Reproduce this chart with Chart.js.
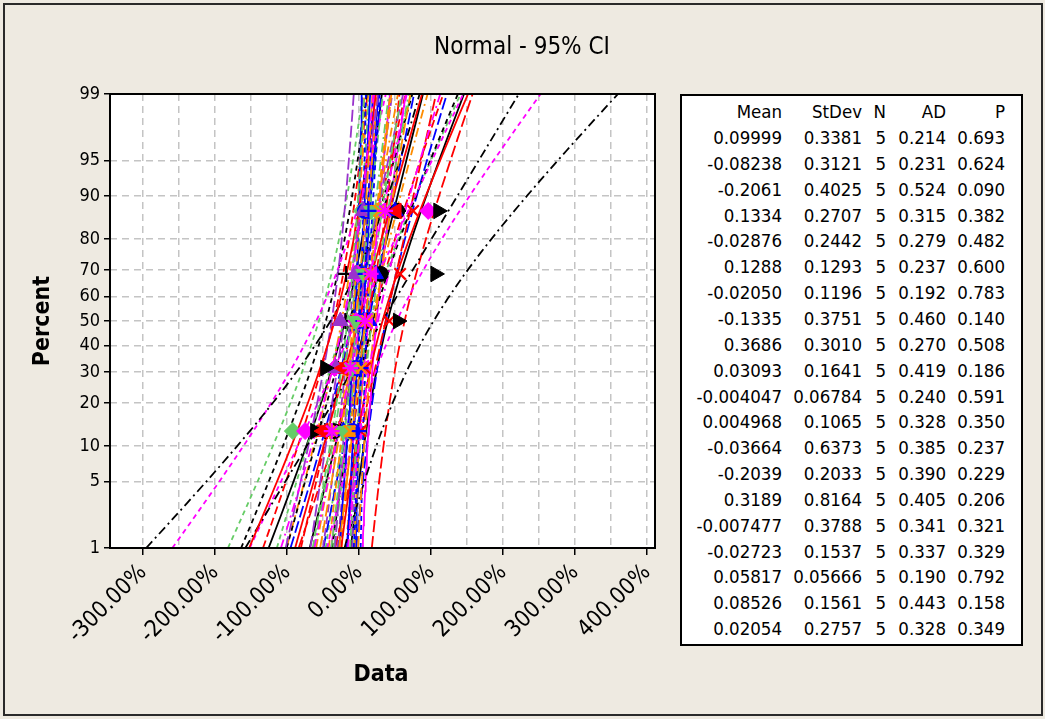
<!DOCTYPE html>
<html>
<head>
<meta charset="utf-8">
<title>Normal - 95% CI</title>
<script src="https://cdn.jsdelivr.net/npm/chart.js@4.4.1/dist/chart.umd.min.js"></script>
<style>
  html, body { margin: 0; padding: 0; background: #eeeae1; }
  #wrap { position: relative; width: 1045px; height: 719px; overflow: hidden; }
  #wrap canvas { position: absolute; left: 0; top: 0; }
  #stats {
    position: absolute; left: 680px; top: 94px; width: 339px; height: 548px;
    background: #fff; border: 2px solid #000;
    font: 18.5px "DejaVu Sans Condensed", "DejaVu Sans", sans-serif; color: #000;
  }
  #stats div { position: absolute; white-space: nowrap; text-align: right; line-height: 20px; }
</style>
</head>
<body>
<div id="wrap">
  <canvas id="probChart" width="1045" height="719"></canvas>
  <div id="stats"></div>
</div>
<script>
// summary table, one entry per group
const groupMean = ['0.09999', '-0.08238', '-0.2061', '0.1334', '-0.02876', '0.1288', '-0.02050', '-0.1335', '0.3686', '0.03093',
                   '-0.004047', '0.004968', '-0.03664', '-0.2039', '0.3189', '-0.007477', '-0.02723', '0.05817', '0.08526', '0.02054'];
const groupStDev = ['0.3381', '0.3121', '0.4025', '0.2707', '0.2442', '0.1293', '0.1196', '0.3751', '0.3010', '0.1641',
                    '0.06784', '0.1065', '0.6373', '0.2033', '0.8164', '0.3788', '0.1537', '0.05666', '0.1561', '0.2757'];
const groupN = [5, 5, 5, 5, 5, 5, 5, 5, 5, 5, 5, 5, 5, 5, 5, 5, 5, 5, 5, 5];
const groupAD = ['0.214', '0.231', '0.524', '0.315', '0.279', '0.237', '0.192', '0.460', '0.270', '0.419',
                 '0.240', '0.328', '0.385', '0.390', '0.405', '0.341', '0.337', '0.190', '0.443', '0.328'];
const groupP = ['0.693', '0.624', '0.090', '0.382', '0.482', '0.600', '0.783', '0.140', '0.508', '0.186',
                '0.591', '0.350', '0.237', '0.229', '0.206', '0.321', '0.329', '0.792', '0.158', '0.349'];

// observations per group, sorted (1.0 = 100%)
const samples = [
  [-0.35, -0.08, 0.10, 0.30, 0.53],
  [-0.52, -0.22, -0.05, 0.08, 0.30],
  [-0.92, -0.10, -0.04, -0.01, 0.04],
  [-0.22, 0.02, 0.14, 0.23, 0.50],
  [-0.35, -0.15, -0.02, 0.08, 0.30],
  [-0.03, 0.07, 0.12, 0.18, 0.30],
  [-0.18, -0.08, -0.02, 0.05, 0.13],
  [-0.47, -0.33, -0.19, -0.18, 0.54],
  [0.02, 0.08, 0.42, 0.57, 0.75],
  [-0.15, -0.06, 0.00, 0.06, 0.30],
  [-0.09, -0.04, 0.00, 0.03, 0.08],
  [-0.13, -0.05, -0.02, 0.07, 0.155],
  [-0.75, -0.34, -0.04, -0.02, 0.96],
  [-0.45, -0.32, -0.26, -0.05, 0.06],
  [-0.61, -0.47, 0.54, 1.06, 1.10],
  [-0.50, -0.22, 0.04, 0.12, 0.52],
  [-0.22, -0.10, -0.05, 0.06, 0.17],
  [-0.01, 0.02, 0.06, 0.09, 0.13],
  [-0.13, 0.03, 0.11, 0.14, 0.28],
  [-0.38, -0.12, 0.08, 0.16, 0.36]
];

const yTickPct = [1, 5, 10, 20, 30, 40, 50, 60, 70, 80, 90, 95, 99];
const xTickVals = [-3, -2, -1, 0, 1, 2, 3, 4];

const FONT = '"DejaVu Sans Condensed", "DejaVu Sans", sans-serif';
const palette = ['#000000', '#ff0000', '#66cc66', '#0000ff', '#ff8c00', '#ff00ff', '#9933cc'];
const symbols = [
  { style: 'circle', rot: 0 }, { style: 'rect', rot: 0 }, { style: 'rectRot', rot: 0 }, { style: 'triangle', rot: 0 },
  { style: 'triangle', rot: 90 }, { style: 'triangle', rot: 270 }, { style: 'triangle', rot: 180 },
  { style: 'cross', rot: 0 }, { style: 'crossRot', rot: 0 }, { style: 'star', rot: 0 }
];
const dashes = [[], [8, 4], [5, 4], [12, 4], [9, 4, 2, 4]];

// inverse standard normal cdf (Acklam)
function probit(p) {
  const a = [-39.69683028665376, 220.9460984245205, -275.9285104469687, 138.3577518672690, -30.66479806614716, 2.506628277459239];
  const b = [-54.47609879822406, 161.5858368580409, -155.6989798598866, 66.80131188771972, -13.28068155288572];
  const c = [-0.007784894002430293, -0.3223964580411365, -2.400758277161838, -2.549732539343734, 4.374664141464968, 2.938163982698783];
  const d = [0.007784695709041462, 0.3224671290700398, 2.445134137142996, 3.754408661907416];
  const lo = 0.02425;
  let q, r;
  if (p < lo) {
    q = Math.sqrt(-2 * Math.log(p));
    return (((((c[0] * q + c[1]) * q + c[2]) * q + c[3]) * q + c[4]) * q + c[5]) / ((((d[0] * q + d[1]) * q + d[2]) * q + d[3]) * q + 1);
  }
  if (p > 1 - lo) {
    q = Math.sqrt(-2 * Math.log(1 - p));
    return -(((((c[0] * q + c[1]) * q + c[2]) * q + c[3]) * q + c[4]) * q + c[5]) / ((((d[0] * q + d[1]) * q + d[2]) * q + d[3]) * q + 1);
  }
  q = p - 0.5;
  r = q * q;
  return (((((a[0] * r + a[1]) * r + a[2]) * r + a[3]) * r + a[4]) * r + a[5]) * q / (((((b[0] * r + b[1]) * r + b[2]) * r + b[3]) * r + b[4]) * r + 1);
}

const zLo = probit(0.01);
const zHi = probit(0.99);

// fitted line and 95% confidence band for one group
function fitLine(m, s) {
  return [zLo, zHi].map(z => ({ x: m + s * z, y: z }));
}
function band(m, s, n, sign) {
  const pts = [];
  for (let k = 0; k <= 40; k++) {
    const z = zLo + (zHi - zLo) * k / 40;
    const half = 1.96 * s * Math.sqrt(1 / n + z * z / (2 * n));
    pts.push({ x: m + s * z + sign * half, y: z });
  }
  return pts;
}

function markerRadius(style) {
  if (style === 'triangle') return 9;
  if (style === 'cross' || style === 'crossRot' || style === 'star') return 8;
  if (style === 'rectRot') return 8.5;
  return 7.5;
}

// later groups paint over earlier ones; markers over all lines
const datasets = [];
samples.forEach((vals, g) => {
  const m = Number(groupMean[g]);
  const s = Number(groupStDev[g]);
  const n = groupN[g];
  const color = palette[g % palette.length];
  const sym = symbols[g % symbols.length];
  const dash = dashes[g % dashes.length];
  const lineStyle = {
    showLine: true, borderColor: color, borderWidth: 1.8, borderDash: dash,
    pointRadius: 0, fill: false, tension: 0, order: 100 - g
  };
  datasets.push(Object.assign({ data: fitLine(m, s) }, lineStyle));
  datasets.push(Object.assign({ data: band(m, s, n, -1) }, lineStyle));
  datasets.push(Object.assign({ data: band(m, s, n, 1) }, lineStyle));

  const isLine = ['cross', 'crossRot', 'star'].includes(sym.style);
  datasets.push({
    data: vals.map((v, i) => ({ x: v, y: probit((i + 1 - 0.3) / (vals.length + 0.4)) })),
    showLine: false,
    pointStyle: sym.style,
    rotation: sym.rot,
    pointRadius: markerRadius(sym.style),
    backgroundColor: color,
    borderColor: color,
    borderWidth: isLine ? 2.2 : 1,
    order: -g
  });
});

const isWhole = v => Math.abs(v - Math.round(v)) < 1e-9;

const framePlugin = {
  id: 'frame',
  beforeDraw(chart) {
    const { ctx, chartArea: a } = chart;
    ctx.save();
    ctx.fillStyle = '#eeeae1';
    ctx.fillRect(0, 0, chart.width, chart.height);
    ctx.strokeStyle = '#2a2a2a';
    ctx.lineWidth = 2;
    ctx.strokeRect(4, 4, chart.width - 7, chart.height - 8);
    ctx.fillStyle = '#ffffff';
    ctx.fillRect(a.left, a.top, a.right - a.left, a.bottom - a.top);
    ctx.restore();
  },
  afterDraw(chart) {
    const { ctx, chartArea: a } = chart;
    ctx.save();
    ctx.strokeStyle = '#000';
    ctx.lineWidth = 2;
    ctx.strokeRect(a.left, a.top, a.right - a.left, a.bottom - a.top);

    ctx.fillStyle = '#000';
    ctx.textAlign = 'center';
    ctx.textBaseline = 'middle';
    ctx.font = '24px ' + FONT;
    ctx.fillText('Normal - 95% CI', 522, 48);
    ctx.font = 'bold 23px ' + FONT;
    ctx.fillText('Data', 381, 675);
    ctx.translate(43, 321);
    ctx.rotate(-Math.PI / 2);
    ctx.fillText('Percent', 0, 0);
    ctx.restore();
  }
};

new Chart(document.getElementById('probChart'), {
  type: 'scatter',
  data: { datasets },
  plugins: [framePlugin],
  options: {
    responsive: false,
    animation: false,
    events: [],
    layout: { padding: { left: 0, top: 94, right: 390, bottom: 0 } },
    plugins: { legend: { display: false }, tooltip: { enabled: false } },
    scales: {
      x: {
        min: -3.46,
        max: 4.11,
        afterFit: scale => { scale.height = 171; },
        afterBuildTicks: scale => {
          const t = [];
          for (let v = xTickVals[0]; v <= xTickVals[xTickVals.length - 1] + 1e-9; v += 0.5) t.push({ value: v });
          scale.ticks = t;
        },
        ticks: {
          autoSkip: false,
          minRotation: 45,
          maxRotation: 45,
          padding: 4,
          color: '#000',
          font: { family: FONT, size: 23 },
          callback: v => isWhole(v) ? (v * 100).toFixed(2) + '%' : ''
        },
        grid: {
          color: '#c4c4c4',
          lineWidth: 1.5,
          tickLength: 7,
          tickWidth: 1.5,
          tickColor: ctx => (ctx.tick && isWhole(ctx.tick.value)) ? '#000' : 'rgba(0,0,0,0)'
        },
        border: { display: false, dash: [7, 5] }
      },
      y: {
        min: zLo,
        max: zHi,
        afterFit: scale => { scale.width = 110; },
        afterBuildTicks: scale => {
          scale.ticks = yTickPct.map(p => ({ value: probit(p / 100) }));
        },
        ticks: {
          autoSkip: false,
          padding: 4,
          color: '#000',
          font: { family: FONT, size: 18 },
          callback: (v, i) => String(yTickPct[i])
        },
        grid: {
          color: '#c4c4c4',
          lineWidth: 1.5,
          tickLength: 6,
          tickWidth: 1.5,
          tickColor: '#000'
        },
        border: { display: false, dash: [7, 5] }
      }
    }
  }
});

// statistics box beside the plot
const stats = document.getElementById('stats');
const colRight = [782, 862, 886, 946, 1005];
const innerRight = 1021, innerTop = 96;
function addRow(cells, centerY) {
  cells.forEach((txt, c) => {
    const el = document.createElement('div');
    el.textContent = txt;
    el.style.right = (innerRight - colRight[c]) + 'px';
    el.style.top = (centerY - 10 - innerTop) + 'px';
    stats.appendChild(el);
  });
}
addRow(['Mean', 'StDev', 'N', 'AD', 'P'], 112);
groupMean.forEach((m, i) => {
  addRow([m, groupStDev[i], String(groupN[i]), groupAD[i], groupP[i]], 138 + i * 25.85);
});
</script>
</body>
</html>
